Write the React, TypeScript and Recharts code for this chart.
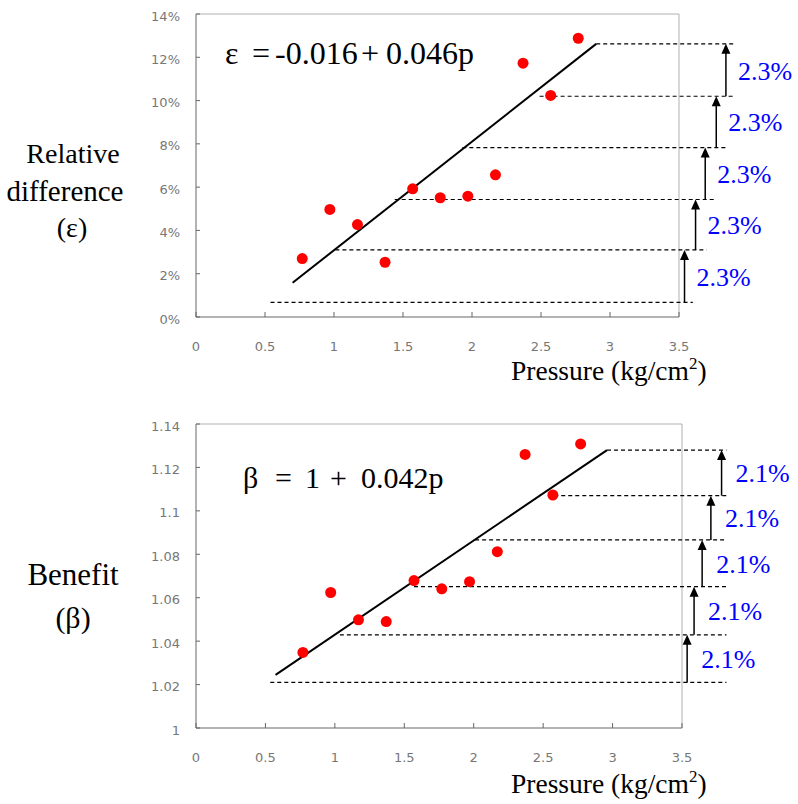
import React from 'react';
import { ComposedChart, Scatter, XAxis, YAxis, ReferenceLine } from 'recharts';

// pressure (kg/cm2) of the measured points, shared by both panels
const pressure = [0.77, 0.97, 1.17, 1.37, 1.57, 1.77, 1.97, 2.17, 2.37, 2.57, 2.77];
const relDiff = [0.027, 0.0497, 0.0427, 0.0253, 0.0592, 0.0551, 0.0558, 0.0657, 0.1173, 0.1024, 0.1288];
const benefit = [1.0348, 1.0624, 1.0498, 1.049, 1.0679, 1.0641, 1.0674, 1.0812, 1.126, 1.1073, 1.1308];

const xTicks = [0, 0.5, 1, 1.5, 2, 2.5, 3, 3.5];
const relTicks = [0, 0.02, 0.04, 0.06, 0.08, 0.1, 0.12, 0.14];
const benTicks = [1, 1.02, 1.04, 1.06, 1.08, 1.1, 1.12, 1.14];

// fitted lines, end points
const relFitP = [0.7, 2.9];
const relFitV = [0.0158, 0.1262];
const benFitP = [0.573, 2.96];
const benFitV = [1.0245, 1.128];

// dashed step levels
const relLevels = [0.0068, 0.031, 0.0543, 0.0783, 0.102, 0.1262];
const relLevelFrom = [0.54, 1.01, 1.44, 1.93, 2.49, 2.9];
const relLevelTo = [3.6, 3.7, 3.77, 3.85, 3.91, 3.9];
const relArrowP = [3.54, 3.62, 3.69, 3.77, 3.84];
const relStepLabels = ['2.3%', '2.3%', '2.3%', '2.3%', '2.3%'];

const benLevels = [1.021, 1.0429, 1.0651, 1.0866, 1.107, 1.128];
const benLevelFrom = [0.535, 1.036, 1.57, 2.01, 2.58, 2.96];
const benLevelTo = [3.82, 3.82, 3.82, 3.82, 3.82, 3.82];
const benArrowP = [3.537, 3.587, 3.645, 3.708, 3.785];
const benStepLabels = ['2.1%', '2.1%', '2.1%', '2.1%', '2.1%'];

const SERIF = 'Liberation Serif, Times New Roman, serif';
const TICK = { fill: '#777', fontSize: 13, style: { fontFamily: 'DejaVu Sans, sans-serif' } };

const dot = (p: any) => <circle cx={p.cx} cy={p.cy} r={5.5} fill="#ff0000" />;

const arrowShape = (label: string, dx: number) => (props: any) => {
    const { x1, y1, y2 } = props;
    const top = Math.min(y1, y2);
    const bottom = Math.max(y1, y2);
    return (
        <g>
            <line x1={x1} y1={bottom} x2={x1} y2={top + 8} stroke="#000" strokeWidth={1.5} />
            <polygon points={`${x1},${top} ${x1 - 4.5},${top + 10} ${x1 + 4.5},${top + 10}`} fill="#000" />
            <text
                x={x1 + dx}
                y={(top + bottom) / 2 + 1}
                dominantBaseline="central"
                style={{ fontFamily: SERIF, fontSize: 26 }}
                fill="#0000ff"
            >
                {label}
            </text>
        </g>
    );
};

interface PanelProps {
    height: number;
    top: number;
    plotW: number;
    plotH: number;
    xAxisH: number;
    values: number[];
    yTicks: number[];
    fmt: (v: number) => string;
    fitP: number[];
    fitV: number[];
    levels: number[];
    from: number[];
    to: number[];
    arrowP: number[];
    stepLabels: string[];
    labelDx: number;
}

function Panel(props: PanelProps) {
    const { height, top, plotW, plotH, xAxisH, values, yTicks, fmt, fitP, fitV, levels, from, to, arrowP, stepLabels, labelDx } = props;
    const data = pressure.map((p, i) => ({ p, v: values[i] }));
    const yMin = yTicks[0];
    const yMax = yTicks[yTicks.length - 1];
    return (
        <ComposedChart
            width={798}
            height={height}
            margin={{ top, left: 0, right: 798 - 196 - plotW, bottom: height - top - plotH - xAxisH }}
        >
            <XAxis
                type="number"
                dataKey="p"
                domain={[0, 3.5]}
                ticks={xTicks}
                interval={0}
                height={xAxisH}
                tickSize={-5}
                tickMargin={30}
                axisLine={{ stroke: '#666' }}
                tickLine={{ stroke: '#666' }}
                tick={TICK}
            />
            <YAxis
                type="number"
                dataKey="v"
                domain={[yMin, yMax]}
                ticks={yTicks}
                interval={0}
                width={196}
                tickSize={-4}
                tickMargin={20}
                tickFormatter={fmt}
                axisLine={{ stroke: '#666' }}
                tickLine={{ stroke: '#666' }}
                tick={{ ...TICK, dy: 2 }}
            />
            <ReferenceLine y={yMax} stroke="#b0b0b0" />
            <ReferenceLine x={3.5} stroke="#b0b0b0" />
            {levels.map((lv, i) => (
                <ReferenceLine
                    key={'lv' + i}
                    segment={[{ x: from[i], y: lv }, { x: to[i], y: lv }]}
                    stroke="#000"
                    strokeWidth={1.2}
                    strokeDasharray="4 3"
                    ifOverflow="visible"
                />
            ))}
            {arrowP.map((ap, i) => (
                <ReferenceLine
                    key={'ar' + i}
                    segment={[{ x: ap, y: levels[i] }, { x: ap, y: levels[i + 1] }]}
                    ifOverflow="visible"
                    shape={arrowShape(stepLabels[i], labelDx)}
                />
            ))}
            <ReferenceLine
                segment={[{ x: fitP[0], y: fitV[0] }, { x: fitP[1], y: fitV[1] }]}
                stroke="#000"
                strokeWidth={2}
            />
            <Scatter data={data} dataKey="v" shape={dot} isAnimationActive={false} />
        </ComposedChart>
    );
}

export default function App() {
    return (
        <div style={{ position: 'absolute', left: 0, top: 0, width: 798, height: 804, background: '#fff' }}>
            <div style={{ position: 'absolute', left: 0, top: 0 }}>
                <Panel
                    height={400}
                    top={14}
                    plotW={483}
                    plotH={303}
                    xAxisH={83}
                    values={relDiff}
                    yTicks={relTicks}
                    fmt={(v) => `${Math.round(v * 100)}%`}
                    fitP={relFitP}
                    fitV={relFitV}
                    levels={relLevels}
                    from={relLevelFrom}
                    to={relLevelTo}
                    arrowP={relArrowP}
                    stepLabels={relStepLabels}
                    labelDx={12}
                />
            </div>
            <div style={{ position: 'absolute', left: 0, top: 400 }}>
                <Panel
                    height={404}
                    top={24}
                    plotW={486}
                    plotH={304}
                    xAxisH={76}
                    values={benefit}
                    yTicks={benTicks}
                    fmt={(v) => String(Number(v.toFixed(2)))}
                    fitP={benFitP}
                    fitV={benFitV}
                    levels={benLevels}
                    from={benLevelFrom}
                    to={benLevelTo}
                    arrowP={benArrowP}
                    stepLabels={benStepLabels}
                    labelDx={14}
                />
            </div>
            <svg
                width={798}
                height={804}
                style={{ position: 'absolute', left: 0, top: 0, pointerEvents: 'none', fontFamily: SERIF }}
            >
                <text x={73} y={163} fontSize={28} textAnchor="middle">Relative</text>
                <text x={65} y={201} fontSize={29} textAnchor="middle">difference</text>
                <text x={72} y={237} fontSize={28} textAnchor="middle">(ε)</text>
                <text x={73} y={585} fontSize={31} textAnchor="middle">Benefit</text>
                <text x={73} y={628} fontSize={30} textAnchor="middle">(β)</text>

                <text y={64} fontSize={32}>
                    <tspan x={225}>ε</tspan>
                    <tspan x={252}>=</tspan>
                    <tspan x={275}>-0.016</tspan>
                    <tspan x={361}>+</tspan>
                    <tspan x={386}>0.046p</tspan>
                </text>
                <text y={488} fontSize={30}>
                    <tspan x={243}>β</tspan>
                    <tspan x={275}>=</tspan>
                    <tspan x={305}>1</tspan>
                    <tspan x={330}>+</tspan>
                    <tspan x={361}>0.042p</tspan>
                </text>

                <text x={511} y={380} fontSize={27.5}>
                    Pressure (kg/cm<tspan dy={-11} fontSize={17}>2</tspan><tspan dy={11}>)</tspan>
                </text>
                <text x={511} y={793} fontSize={27.5}>
                    Pressure (kg/cm<tspan dy={-11} fontSize={17}>2</tspan><tspan dy={11}>)</tspan>
                </text>
            </svg>
        </div>
    );
}
